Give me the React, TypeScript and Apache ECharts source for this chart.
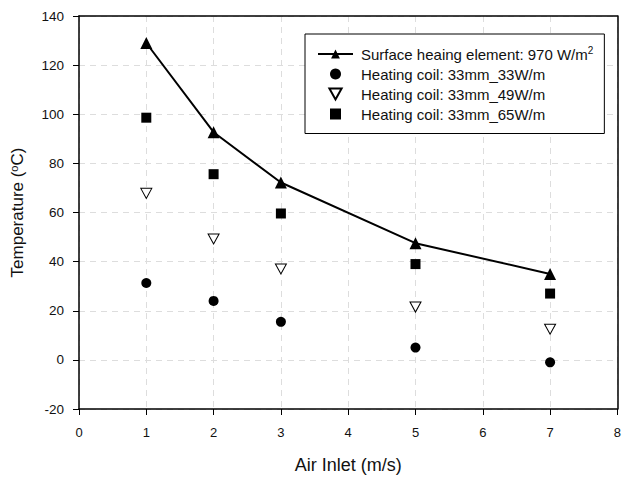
import React, { useEffect, useRef } from "react";
import * as echarts from "echarts";

const xValues = [1, 2, 3, 5, 7];
const surfaceElement = [129, 92.7, 72.2, 47.5, 35];
const coil33 = [31.3, 24, 15.5, 5, -1];
const coil49 = [67.8, 49.2, 37, 21.5, 12.5];
const coil65 = [98.6, 75.6, 59.6, 39, 27];
const seriesNames = [
  "Surface heaing element: 970 W/m2",
  "Heating coil: 33mm_33W/m",
  "Heating coil: 33mm_49W/m",
  "Heating coil: 33mm_65W/m",
];
const invTriangle = "path://M0,0 L10,0 L5,9 Z";
const square = "path://M0,0 L10,0 L10,10 L0,10 Z";

export default function App() {
  const ref = useRef<HTMLDivElement>(null);
  useEffect(() => {
    if (!ref.current) return;
    const chart = echarts.init(ref.current, undefined, { renderer: "svg" });
    const pair = (ys: number[]) => xValues.map((x, i) => [x, ys[i]]);
    const font = "Arial, 'Liberation Sans', sans-serif";
    const frameAxis = {
      type: "value",
      axisLine: { show: true, onZero: false, lineStyle: { color: "#000", width: 1.5 } },
      axisTick: { show: false },
      axisLabel: { show: false },
      splitLine: { show: false },
    };
    chart.setOption({
      animation: false,
      textStyle: { fontFamily: font },
      grid: {
        left: 79,
        right: 3,
        top: 16,
        bottom: 67,
      },
      legend: {
        orient: "vertical",
        left: 305,
        top: 34,
        padding: [11, 11, 12, 12],
        itemGap: 5,
        itemWidth: 35,
        itemHeight: 11,
        borderColor: "#000",
        borderWidth: 1,
        backgroundColor: "#fff",
        data: seriesNames,
        formatter: (name: string) =>
          name.endsWith("W/m2") ? name.slice(0, -1) + "{sup|2}" : name,
        textStyle: {
          fontSize: 15,
          color: "#111",
          fontFamily: font,
          padding: [0, 0, 0, 3],
          rich: { sup: { fontSize: 10, verticalAlign: "top", padding: [0, 0, 8, 0], color: "#111" } },
        },
      },
      xAxis: [
        {
          type: "value",
          min: 0,
          max: 8,
          interval: 1,
          name: "Air Inlet (m/s)",
          nameLocation: "middle",
          nameGap: 47,
          nameTextStyle: { fontSize: 18, color: "#111", fontFamily: font },
          axisLine: { onZero: false, lineStyle: { color: "#000", width: 1.5 } },
          axisTick: { show: true, length: 6, lineStyle: { color: "#000" } },
          axisLabel: { fontSize: 13, color: "#111", margin: 17 },
          splitLine: { show: true, lineStyle: { color: "#ddd", type: [6, 5], width: 1 } },
        },
        { ...frameAxis, position: "top", min: 0, max: 8 },
      ],
      yAxis: [
        {
          type: "value",
          min: -20,
          max: 140,
          interval: 20,
          name: "Temperature ({sup|o}C)",
          nameLocation: "middle",
          nameGap: 52,
          nameTextStyle: {
            fontSize: 17,
            color: "#111",
            fontFamily: font,
            rich: { sup: { fontSize: 11, verticalAlign: "top", padding: [0, 0, 8, 0], color: "#111" } },
          },
          axisLine: { onZero: false, lineStyle: { color: "#000", width: 1.5 } },
          axisTick: { show: true, length: 6, lineStyle: { color: "#000" } },
          axisLabel: { fontSize: 13.5, color: "#111", margin: 15 },
          splitLine: { show: true, lineStyle: { color: "#ddd", type: [6, 5], width: 1 } },
        },
        { ...frameAxis, position: "right", min: -20, max: 140 },
      ],
      series: [
        {
          name: seriesNames[0],
          type: "line",
          data: pair(surfaceElement),
          symbol: "triangle",
          symbolSize: 12,
          lineStyle: { color: "#000", width: 2 },
          itemStyle: { color: "#000", opacity: 1 },
        },
        {
          name: seriesNames[1],
          type: "scatter",
          data: pair(coil33),
          symbol: "circle",
          symbolSize: 10,
          itemStyle: { color: "#000", opacity: 1 },
        },
        {
          name: seriesNames[2],
          type: "scatter",
          data: pair(coil49),
          symbol: invTriangle,
          symbolSize: [11, 10],
          itemStyle: { color: "#fff", borderColor: "#000", borderWidth: 1, opacity: 1 },
        },
        {
          name: seriesNames[3],
          type: "scatter",
          data: pair(coil65),
          symbol: square,
          symbolSize: 10,
          itemStyle: { color: "#000", opacity: 1 },
        },
      ],
    });
    return () => chart.dispose();
  }, []);
  return <div ref={ref} style={{ width: 624, height: 479, position: "absolute", left: 0, top: 0 }} />;
}
